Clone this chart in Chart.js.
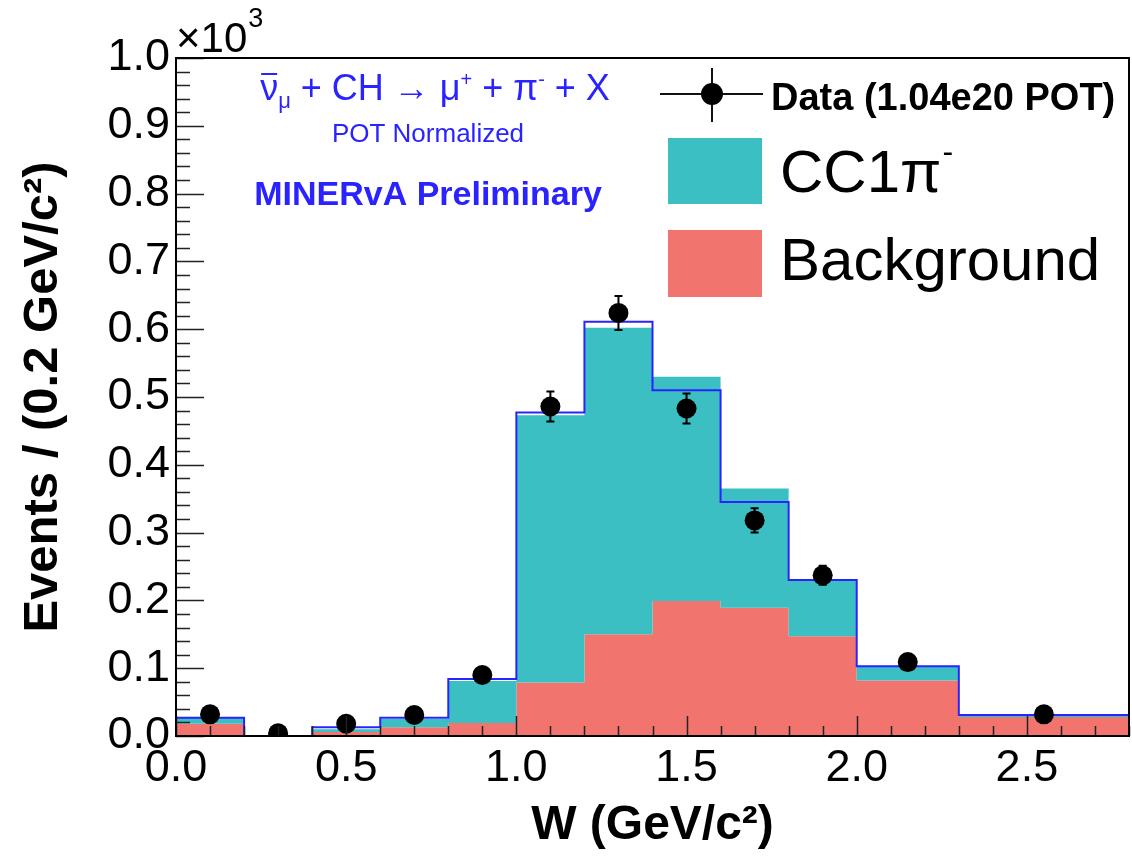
<!DOCTYPE html>
<html>
<head>
<meta charset="utf-8">
<script src="https://cdn.jsdelivr.net/npm/chart.js@4.4.1/dist/chart.umd.min.js"></script>
<style>
  body { margin: 0; background: #fff; }
  canvas { display: block; }
</style>
</head>
<body>
<canvas id="wChart" width="1132" height="865"></canvas>
<script>
// W histogram binning (GeV/c^2)
const binEdges = [0.0, 0.2, 0.4, 0.6, 0.8, 1.0, 1.2, 1.4, 1.6, 1.8, 2.0, 2.3, 2.8];
// MC, events per bin
const background = [18, 0, 6, 13, 19, 79, 150, 199, 189, 147, 82, 28];
const cc1pi = [9, 0, 4, 12, 62, 394, 452, 331, 176, 83, 21, 3];
const mcTotal = [27, 0, 13, 27, 84, 477, 611, 510, 345, 230, 103, 31];
// data points
const dataW = [0.1, 0.3, 0.5, 0.7, 0.9, 1.1, 1.3, 1.5, 1.7, 1.9, 2.15, 2.55];
const dataEvents = [32, 4, 18, 31, 90, 486, 624, 483, 318, 237, 109, 32];
const dataErr = [6, 2, 4, 6, 9, 22, 25, 22, 18, 14, 10, 6];
// axis ticks
const xTickValues = [0, 0.5, 1.0, 1.5, 2.0, 2.5];
const yTickValues = [0, 100, 200, 300, 400, 500, 600, 700, 800, 900, 1000];

const FONT = '"Liberation Sans", Arial, Helvetica, sans-serif';
const TEAL = '#3bbfc3';
const RED = '#f2746f';
const BLUE = '#2a22ff';

// stepped histogram points: value i holds from edge i to edge i+1
function histPoints(vals) {
  const pts = vals.map((v, i) => ({ x: binEdges[i], y: v }));
  pts.push({ x: binEdges[binEdges.length - 1], y: vals[vals.length - 1] });
  return pts;
}

const stackedTop = background.map((b, i) => b + cc1pi[i]);

// text runs with super/subscripts
function runsWidth(ctx, runs) {
  let w = 0;
  for (const r of runs) { ctx.font = r.font; w += ctx.measureText(r.t).width; }
  return w;
}
function drawRuns(ctx, x, y, runs) {
  const pos = [];
  for (const r of runs) {
    ctx.font = r.font;
    ctx.fillText(r.t, x, y + (r.dy || 0));
    const w = ctx.measureText(r.t).width;
    pos.push([x, w]);
    x += w;
  }
  return pos;
}

const rootStyle = {
  id: 'rootStyle',
  beforeDraw(chart) {
    const ctx = chart.ctx;
    ctx.save();
    ctx.fillStyle = '#fff';
    ctx.fillRect(0, 0, chart.width, chart.height);
    ctx.restore();
  },
  afterDatasetsDraw(chart) {
    // error bars on data
    const ctx = chart.ctx;
    const xs = chart.scales.x, ys = chart.scales.y;
    ctx.save();
    ctx.strokeStyle = '#000';
    ctx.lineWidth = 2;
    dataW.forEach((w, i) => {
      const px = xs.getPixelForValue(w);
      const y1 = ys.getPixelForValue(dataEvents[i] + dataErr[i]);
      const y2 = ys.getPixelForValue(Math.max(0, dataEvents[i] - dataErr[i]));
      ctx.beginPath();
      ctx.moveTo(px, y1); ctx.lineTo(px, y2);
      ctx.moveTo(px - 4, y1); ctx.lineTo(px + 4, y1);
      ctx.moveTo(px - 4, y2); ctx.lineTo(px + 4, y2);
      ctx.stroke();
    });
    ctx.restore();
  },
  afterDraw(chart) {
    const ctx = chart.ctx;
    const a = chart.chartArea;
    const xs = chart.scales.x, ys = chart.scales.y;
    ctx.save();

    // inward ticks
    ctx.strokeStyle = '#222';
    ctx.lineWidth = 1.5;
    ctx.beginPath();
    for (let i = 0; i <= 50; i++) {
      const py = Math.round(ys.getPixelForValue(i * 20)) + 0.5;
      const len = i % 5 === 0 ? 28 : 14;
      ctx.moveTo(a.left, py); ctx.lineTo(a.left + len, py);
    }
    for (let i = 0; i <= 28; i++) {
      const px = Math.round(xs.getPixelForValue(i / 10)) + 0.5;
      const len = i % 5 === 0 ? 20 : 10;
      ctx.moveTo(px, a.bottom); ctx.lineTo(px, a.bottom - len);
    }
    ctx.stroke();

    // frame
    ctx.strokeStyle = '#000';
    ctx.lineWidth = 2;
    ctx.strokeRect(a.left, a.top, a.right - a.left, a.bottom - a.top);

    // x10^3 exponent
    ctx.fillStyle = '#000';
    ctx.textBaseline = 'alphabetic';
    ctx.textAlign = 'left';
    ctx.font = '42px ' + FONT;
    ctx.fillText('\u00d710', a.left, 52);
    const ew = ctx.measureText('\u00d710').width;
    ctx.font = '27px ' + FONT;
    ctx.fillText('3', a.left + ew + 1, 27);

    // annotations
    ctx.fillStyle = BLUE;
    const big = '36px ' + FONT, sub = '22px ' + FONT, sup = '20px ' + FONT;
    const reaction = [
      { t: '\u03bd', font: big },
      { t: '\u03bc', font: sub, dy: 8 },
      { t: ' + CH \u2192 \u03bc', font: big },
      { t: '+', font: sup, dy: -14 },
      { t: ' + \u03c0', font: big },
      { t: '-', font: sup, dy: -14 },
      { t: ' + X', font: big }
    ];
    const rw = runsWidth(ctx, reaction);
    const pos = drawRuns(ctx, 435 - rw / 2, 100, reaction);
    ctx.strokeStyle = BLUE;
    ctx.lineWidth = 2;
    ctx.beginPath();
    ctx.moveTo(pos[0][0] + 1, 74); ctx.lineTo(pos[0][0] + pos[0][1] - 1, 74);
    ctx.stroke();

    ctx.textAlign = 'center';
    ctx.font = '26px ' + FONT;
    ctx.fillText('POT Normalized', 428, 142);
    ctx.font = 'bold 34px ' + FONT;
    ctx.fillText('MINERvA Preliminary', 428, 205);

    // legend
    ctx.strokeStyle = '#111';
    ctx.lineWidth = 2;
    ctx.beginPath();
    ctx.moveTo(660, 94); ctx.lineTo(763, 94);
    ctx.moveTo(712, 68); ctx.lineTo(712, 122);
    ctx.stroke();
    ctx.fillStyle = '#000';
    ctx.beginPath();
    ctx.arc(712, 94, 11, 0, Math.PI * 2);
    ctx.fill();
    ctx.textAlign = 'left';
    ctx.font = 'bold 38px ' + FONT;
    ctx.fillText(chart.data.datasets[0].label, 771, 110);

    ctx.fillStyle = TEAL;
    ctx.fillRect(668, 138, 94, 66);
    ctx.fillStyle = RED;
    ctx.fillRect(668, 230, 94, 67);

    ctx.fillStyle = '#000';
    ctx.font = '60px ' + FONT;
    ctx.fillText('CC1\u03c0', 780, 192);
    const cw = ctx.measureText('CC1\u03c0').width;
    ctx.font = '32px ' + FONT;
    ctx.fillText('-', 780 + cw + 1, 162);
    ctx.font = '60px ' + FONT;
    ctx.fillText(chart.data.datasets[3].label, 780, 280);

    ctx.restore();
  }
};

const ctx = document.getElementById('wChart').getContext('2d');
const wChart = new Chart(ctx, {
  type: 'line',
  data: {
    datasets: [
      {
        label: 'Data (1.04e20 POT)',
        data: dataW.map((w, i) => ({ x: w, y: dataEvents[i] })),
        showLine: false,
        pointRadius: 10,
        pointBackgroundColor: '#000',
        pointBorderColor: '#000',
        pointBorderWidth: 0
      },
      {
        label: 'MC total',
        data: [{ x: binEdges[0], y: 0 }].concat(histPoints(mcTotal)),
        stepped: true,
        borderColor: BLUE,
        borderWidth: 2,
        pointRadius: 0,
        fill: false
      },
      {
        label: 'CC1\u03c0\u207b',
        data: histPoints(stackedTop),
        stepped: true,
        borderWidth: 0,
        borderColor: 'rgba(0,0,0,0)',
        backgroundColor: TEAL,
        pointRadius: 0,
        fill: 3
      },
      {
        label: 'Background',
        data: histPoints(background),
        stepped: true,
        borderWidth: 0,
        borderColor: 'rgba(0,0,0,0)',
        backgroundColor: RED,
        pointRadius: 0,
        fill: 'origin'
      }
    ]
  },
  options: {
    responsive: false,
    animation: false,
    events: [],
    layout: { autoPadding: false, padding: { top: 58, right: 3, left: 0, bottom: 0 } },
    plugins: {
      legend: { display: false },
      tooltip: { enabled: false }
    },
    scales: {
      x: {
        type: 'linear',
        min: 0,
        max: 2.8,
        grid: { display: false, drawTicks: false },
        border: { display: false },
        afterBuildTicks: (s) => { s.ticks = xTickValues.map(v => ({ value: v })); },
        afterFit: (s) => { s.height = 129; s.paddingLeft = 0; s.paddingRight = 0; },
        ticks: {
          autoSkip: false,
          maxRotation: 0,
          padding: 6,
          color: '#000',
          font: { family: FONT, size: 45 },
          callback: (v) => Number(v).toFixed(1)
        },
        title: {
          display: true,
          text: 'W (GeV/c\u00b2)',
          color: '#000',
          font: { family: FONT, size: 48, weight: 'bold' },
          padding: { top: 0, bottom: 10 }
        }
      },
      y: {
        min: 0,
        max: 1000,
        grid: { display: false, drawTicks: false },
        border: { display: false },
        afterBuildTicks: (s) => { s.ticks = yTickValues.map(v => ({ value: v })); },
        afterFit: (s) => { s.width = 176; s.paddingTop = 0; s.paddingBottom = 0; },
        ticks: {
          padding: 6,
          color: '#000',
          font: { family: FONT, size: 45 },
          callback: (v) => (v / 1000).toFixed(1)
        },
        title: {
          display: true,
          text: 'Events / (0.2 GeV/c\u00b2)',
          color: '#000',
          font: { family: FONT, size: 49, weight: 'bold' },
          padding: { top: 14, bottom: 0 }
        }
      }
    }
  },
  plugins: [rootStyle]
});
</script>
</body>
</html>
